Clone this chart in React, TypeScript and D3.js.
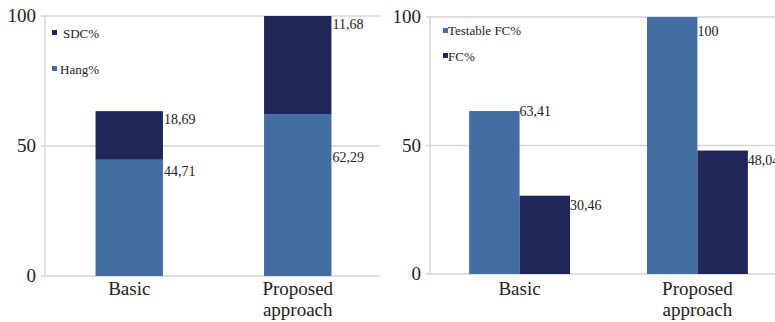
import * as d3 from 'd3';

const categories = ['Basic', 'Proposed approach'];

// left panel: stacked
const hangValues = [44.71, 62.29];
const sdcBarValues = [18.69, 37.71];
const hangLabels = ['44,71', '62,29'];
const sdcLabels = ['18,69', '11,68'];

// right panel: grouped
const testableValues = [63.41, 100];
const fcValues = [30.46, 48.04];
const testableLabels = ['63,41', '100'];
const fcLabels = ['30,46', '48,04'];

const yTicks = [0, 50, 100];

const LIGHT = '#426ea3';
const DARK = '#1f275a';
const GRID = '#d4d4d4';
const FONT = "'Liberation Serif', 'Times New Roman', 'DejaVu Serif', serif";

function Axis({ x0, x1, y }: { x0: number; x1: number; y: d3.ScaleLinear<number, number> }) {
  return (
    <g>
      {yTicks.map((t) => (
        <g key={t}>
          <line x1={x0 - 4} x2={x1} y1={y(t)} y2={y(t)} stroke={GRID} strokeWidth={1.3} />
          <text x={x0 - 9} y={y(t) + 6} textAnchor="end" fontSize={19} fill="#222">{t}</text>
        </g>
      ))}
      <line x1={x0} x2={x0} y1={y(100)} y2={y(0)} stroke={GRID} strokeWidth={1.3} />
    </g>
  );
}

function CatLabels({ x }: { x: (c: string) => number }) {
  return (
    <g fontSize={19} fill="#222" textAnchor="middle">
      {categories.map((c) => {
        const words = c === 'Basic' ? ['Basic'] : ['Proposed', 'approach'];
        return words.map((w, i) => (
          <text key={c + w} x={x(c)} y={295 + i * 21}>{w}</text>
        ));
      })}
    </g>
  );
}

export default function App() {
  // left panel
  const yL = d3.scaleLinear().domain([0, 100]).range([276, 16]);
  const xL = d3.scaleBand().domain(categories).range([45, 382]).paddingInner(0.6).paddingOuter(0.3);
  const bwL = xL.bandwidth();
  const labelDyL: Record<string, number> = { '62,29': 32 };

  // right panel
  const yR = d3.scaleLinear().domain([0, 100]).range([274, 17]);
  const xR = d3.scaleBand().domain(categories).range([430, 787]).paddingInner(0.433).paddingOuter(0.22);
  const bwR = xR.bandwidth();
  const labelDyR: Record<string, number> = { '63,41': 0, '100': 14 };

  return (
    <svg width={775} height={322} fontFamily={FONT} style={{ position: 'absolute', left: 0, top: 0 }}>
      <rect width={775} height={322} fill="#fff" />

      {/* left chart */}
      <Axis x0={45} x1={380} y={yL} />
      {categories.map((c, i) => {
        const x = xL(c)!;
        const hTop = yL(hangValues[i]);
        const sTop = yL(hangValues[i] + sdcBarValues[i]);
        return (
          <g key={c}>
            <rect x={x} y={hTop} width={bwL} height={yL(0) - hTop} fill={LIGHT} />
            <rect x={x} y={sTop} width={bwL} height={hTop - sTop} fill={DARK} />
            <text x={x + bwL + 1} y={sTop + 13} fontSize={14} fill="#222">{sdcLabels[i]}</text>
            <text x={x + bwL + 1} y={hTop + 16 + (labelDyL[hangLabels[i]] ?? 0)} fontSize={14} fill="#222">{hangLabels[i]}</text>
          </g>
        );
      })}
      <CatLabels x={(c) => xL(c)! + bwL / 2} />
      <rect x={52} y={30} width={5} height={5} fill={DARK} />
      <text x={63} y={38} fontSize={13} fill="#222">SDC%</text>
      <rect x={52} y={66} width={5} height={5} fill={LIGHT} />
      <text x={60} y={74} fontSize={13} fill="#222">Hang%</text>

      {/* right chart */}
      <Axis x0={430} x1={775} y={yR} />
      {categories.map((c, i) => {
        const x = xR(c)!;
        const tTop = yR(testableValues[i]);
        const fTop = yR(fcValues[i]);
        return (
          <g key={c}>
            <rect x={x} y={tTop} width={bwR / 2} height={yR(0) - tTop} fill={LIGHT} />
            <rect x={x + bwR / 2} y={fTop} width={bwR / 2} height={yR(0) - fTop} fill={DARK} />
            <text x={x + bwR / 2} y={tTop + 5 + (labelDyR[testableLabels[i]] ?? 0)} fontSize={14} fill="#222">{testableLabels[i]}</text>
            <text x={x + bwR} y={fTop + 14} fontSize={14} fill="#222">{fcLabels[i]}</text>
          </g>
        );
      })}
      <CatLabels x={(c) => xR(c)! + bwR / 2} />
      <rect x={443} y={28} width={5} height={5} fill={LIGHT} />
      <text x={448} y={35} fontSize={13} fill="#222">Testable FC%</text>
      <rect x={443} y={53} width={5} height={5} fill={DARK} />
      <text x={448} y={61} fontSize={13} fill="#222">FC%</text>
    </svg>
  );
}
